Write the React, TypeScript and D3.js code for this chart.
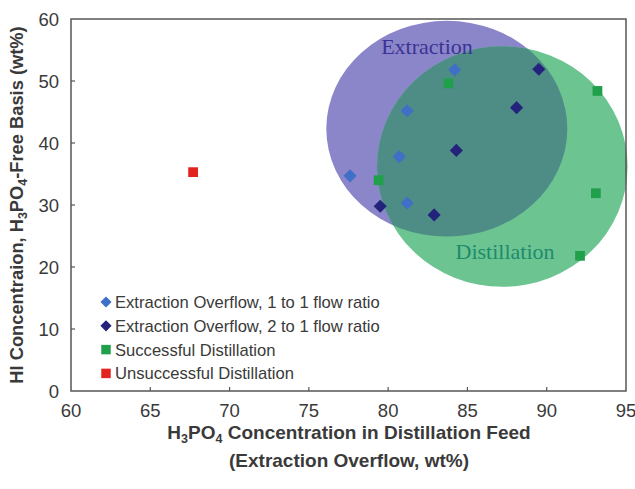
import React from "react";
import { scaleLinear, symbol, symbolDiamond2, symbolSquare } from "d3";

// x = H3PO4 wt%, y = HI wt% (H3PO4-free)
const extraction11X = [84.2, 81.2, 80.7, 77.6, 81.2];
const extraction11Y = [51.8, 45.2, 37.8, 34.7, 30.3];
const extraction21X = [89.5, 88.1, 84.3, 79.5, 82.9];
const extraction21Y = [51.9, 45.7, 38.8, 29.8, 28.4];
const successX = [83.8, 93.2, 79.4, 93.1, 92.1];
const successY = [49.6, 48.4, 34.0, 31.9, 21.8];
const failX = [67.7];
const failY = [35.3];

const xTicks = [60, 65, 70, 75, 80, 85, 90, 95];
const yTicks = [0, 10, 20, 30, 40, 50, 60];

// shaded regions in data units: [cx, cy, rx, ry]
const extractionRegion = [83.7, 42.3, 7.6, 17.4];
const distillationRegion = [87.2, 36.2, 7.9, 19.4];

const legendLabels = [
  "Extraction Overflow, 1 to 1 flow ratio",
  "Extraction Overflow, 2 to 1 flow ratio",
  "Successful Distillation",
  "Unsuccessful Distillation",
];

const W = 635;
const H = 489;
const margin = { top: 19, right: 9, bottom: 98, left: 71 };

export default function App() {
  const x = scaleLinear().domain([60, 95]).range([margin.left, W - margin.right]);
  const y = scaleLinear().domain([0, 60]).range([H - margin.bottom, margin.top]);

  const diamond = symbol().type(symbolDiamond2).size(110)();
  const square = symbol().type(symbolSquare).size(95)();
  const legDiamond = symbol().type(symbolDiamond2).size(80)();
  const legSquare = symbol().type(symbolSquare).size(90)();

  const ell = (r: number[]) => ({
    cx: x(r[0]),
    cy: y(r[1]),
    rx: x(r[0] + r[2]) - x(r[0]),
    ry: y(r[1]) - y(r[1] + r[3]),
  });
  const ext = ell(extractionRegion);
  const dis = ell(distillationRegion);

  const series = [
    { xs: extraction11X, ys: extraction11Y, d: diamond, ld: legDiamond, color: "#3f6fc6" },
    { xs: extraction21X, ys: extraction21Y, d: diamond, ld: legDiamond, color: "#23237c" },
    { xs: successX, ys: successY, d: square, ld: legSquare, color: "#21a04c" },
    { xs: failX, ys: failY, d: square, ld: legSquare, color: "#e2231f" },
  ];

  const x0 = margin.left;
  const x1 = W - margin.right;
  const y0 = H - margin.bottom;
  const y1 = margin.top;
  const axisFont = { fontFamily: "Liberation Sans, Arial, sans-serif", fill: "#3a3a3a" };
  const serif = "Liberation Serif, Times New Roman, serif";

  return (
    <svg width={W} height={H} style={{ position: "absolute", left: 0, top: 0, background: "#fff" }}>
      <defs>
        <clipPath id="extClip">
          <ellipse {...ext} />
        </clipPath>
      </defs>

      {/* regions */}
      <ellipse {...ext} fill="#8a86c9" />
      <ellipse {...dis} fill="#6cc491" />
      <ellipse {...dis} fill="#4e8d86" clipPath="url(#extClip)" />
      <text x={427} y={54} textAnchor="middle" fontFamily={serif} fontSize={22} fill="#3b3394">
        Extraction
      </text>
      <text x={505} y={259} textAnchor="middle" fontFamily={serif} fontSize={22} fill="#1e8a6e">
        Distillation
      </text>

      {/* frame */}
      <rect x={x0} y={y1} width={x1 - x0} height={y0 - y1} fill="none" stroke="#555" strokeWidth={1.5} />

      {/* ticks */}
      {xTicks.map((t) => (
        <g key={"x" + t}>
          {t > 60 && t < 95 && <line x1={x(t)} x2={x(t)} y1={y0} y2={y0 - 4} stroke="#555" strokeWidth={1.2} />}
          <text x={x(t)} y={y0 + 26} textAnchor="middle" fontSize={18.5} {...axisFont}>
            {t}
          </text>
        </g>
      ))}
      {yTicks.map((t) => (
        <g key={"y" + t}>
          {t > 0 && t < 60 && <line x1={x0} x2={x0 + 4} y1={y(t)} y2={y(t)} stroke="#555" strokeWidth={1.2} />}
          <text x={x0 - 12} y={y(t)} dy="0.36em" textAnchor="end" fontSize={18.5} {...axisFont}>
            {t}
          </text>
        </g>
      ))}

      {/* points */}
      {series.map((s, i) =>
        s.xs.map((v, j) => (
          <path key={i + "-" + j} d={s.d} transform={`translate(${x(v)},${y(s.ys[j])})`} fill={s.color} />
        ))
      )}

      {/* legend */}
      {series.map((s, i) => (
        <g key={"leg" + i} transform={`translate(106,${302 + i * 23.8})`}>
          <path d={s.ld} fill={s.color} />
          <text x={9} dy="0.36em" fontSize={16.6} {...axisFont}>
            {legendLabels[i]}
          </text>
        </g>
      ))}

      {/* axis titles */}
      <text
        transform={`translate(23,${(y0 + y1) / 2}) rotate(-90)`}
        textAnchor="middle"
        fontSize={18.3}
        fontWeight="bold"
        {...axisFont}
      >
        HI Concentraion, H<tspan fontSize={12.5} dy={4}>3</tspan>
        <tspan dy={-4}>PO</tspan>
        <tspan fontSize={12.5} dy={4}>4</tspan>
        <tspan dy={-4}>-Free Basis (wt%)</tspan>
      </text>
      <text x={349} y={439} textAnchor="middle" fontSize={19} fontWeight="bold" {...axisFont}>
        H<tspan fontSize={12.5} dy={4}>3</tspan>
        <tspan dy={-4}>PO</tspan>
        <tspan fontSize={12.5} dy={4}>4</tspan>
        <tspan dy={-4}> Concentration in Distillation Feed</tspan>
      </text>
      <text x={349} y={467} textAnchor="middle" fontSize={19} fontWeight="bold" {...axisFont}>
        (Extraction Overflow, wt%)
      </text>
    </svg>
  );
}
